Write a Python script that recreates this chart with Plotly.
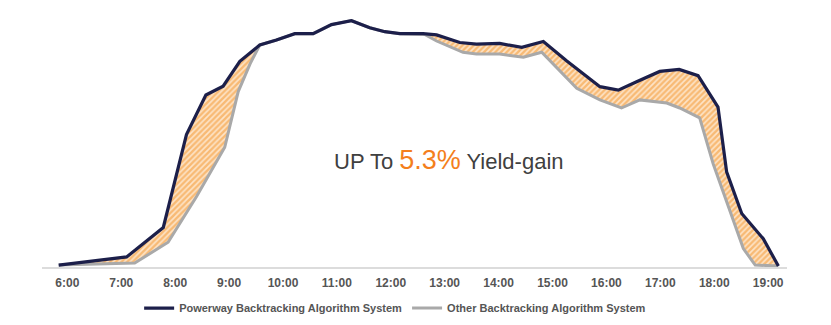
import plotly.graph_objects as go

# Hours (decimal) and relative output
powerway_t = [5.84, 7.10, 7.78, 8.21, 8.57, 8.89, 9.20, 9.57, 9.88, 10.22, 10.56, 10.90,
              11.27, 11.61, 11.89, 12.17, 12.60, 12.85, 13.28, 13.59, 14.02, 14.43, 14.83,
              15.26, 15.88, 16.22, 16.56, 16.99, 17.35, 17.70, 18.07, 18.23, 18.51, 18.91, 19.19]
powerway_v = [0.8, 4.1, 16.1, 54.0, 70.1, 73.7, 83.8, 90.5, 92.5, 95.1, 95.1, 98.8,
              100.4, 97.5, 95.9, 95.1, 95.1, 94.6, 91.5, 90.8, 91.1, 89.5, 91.9,
              84.1, 73.5, 72.1, 75.5, 79.7, 80.5, 78.0, 65.2, 38.8, 21.8, 11.5, 0.4]

other_t = [5.84, 7.25, 7.87, 8.40, 8.92, 9.17, 9.39, 9.57, 9.88, 10.22, 10.56, 10.90,
           11.27, 11.61, 11.89, 12.17, 12.63, 12.85, 13.34, 13.59, 14.02, 14.46, 14.80,
           15.45, 15.88, 16.28, 16.62, 17.12, 17.36, 17.73, 17.98, 18.54, 18.76, 19.19]
other_v = [0.8, 1.6, 10.1, 28.8, 48.8, 71.5, 82.8, 90.5, 92.5, 95.1, 95.1, 98.8,
           100.4, 97.5, 95.9, 95.1, 94.8, 92.1, 87.5, 86.8, 86.8, 85.5, 87.5,
           72.8, 68.1, 64.8, 68.1, 66.8, 64.8, 60.8, 42.1, 7.5, 0.8, 0.4]

tick_hours = list(range(6, 20))
tick_labels = [f"{h}:00" for h in tick_hours]

NAVY = "#1c1f4a"
GRAY = "#a9a9a9"
ORANGE = "#f39020"

fig = go.Figure()
fig.add_trace(go.Scatter(
    x=other_t, y=other_v, mode="lines", name="Other Backtracking Algorithm System",
    line=dict(color=GRAY, width=3), legendrank=2, hoverinfo="skip"))
# hatched gain area between the two curves
fig.add_trace(go.Scatter(
    x=powerway_t, y=powerway_v, mode="lines", showlegend=False,
    line=dict(color="rgba(0,0,0,0)", width=0), fill="tonexty", fillcolor="rgba(0,0,0,0)",
    fillpattern=dict(shape="/", fgcolor=ORANGE, bgcolor="#fde4c8", size=4, solidity=0.6),
    hoverinfo="skip"))
fig.add_trace(go.Scatter(
    x=powerway_t, y=powerway_v, mode="lines", name="Powerway Backtracking Algorithm System",
    line=dict(color=NAVY, width=3.2), legendrank=1, hoverinfo="skip"))

fig.add_annotation(
    x=13.08, y=43.6, xref="x", yref="y", showarrow=False,
    text=("UP To <span style='color:#f47f1c;font-size:27px'>5.3%</span> Yield-gain"),
    font=dict(family="Liberation Sans, Arial, sans-serif", size=22, color="#404040"))

fig.update_layout(
    width=831, height=325,
    margin=dict(l=42, r=44, t=2, b=53),
    paper_bgcolor="white", plot_bgcolor="white",
    showlegend=True,
    legend=dict(orientation="h", x=0.474, y=-0.155, xanchor="center", yanchor="middle",
                font=dict(family="Liberation Sans, Arial, sans-serif",
                          size=11, color="#555555", weight="bold"),
                traceorder="normal", itemwidth=30, bgcolor="rgba(0,0,0,0)"),
    xaxis=dict(range=[5.53, 19.35], tickvals=tick_hours, ticktext=tick_labels,
               showgrid=False, zeroline=False, showline=True, linecolor="#dcdcdc",
               linewidth=2, ticks="", ticklabelstandoff=4,
               tickfont=dict(family="Liberation Sans, Arial, sans-serif", size=12,
                             color="#555555", weight="bold")),
    yaxis=dict(range=[0, 108], visible=False, showgrid=False, zeroline=False),
)

fig.write_html("out.html")
